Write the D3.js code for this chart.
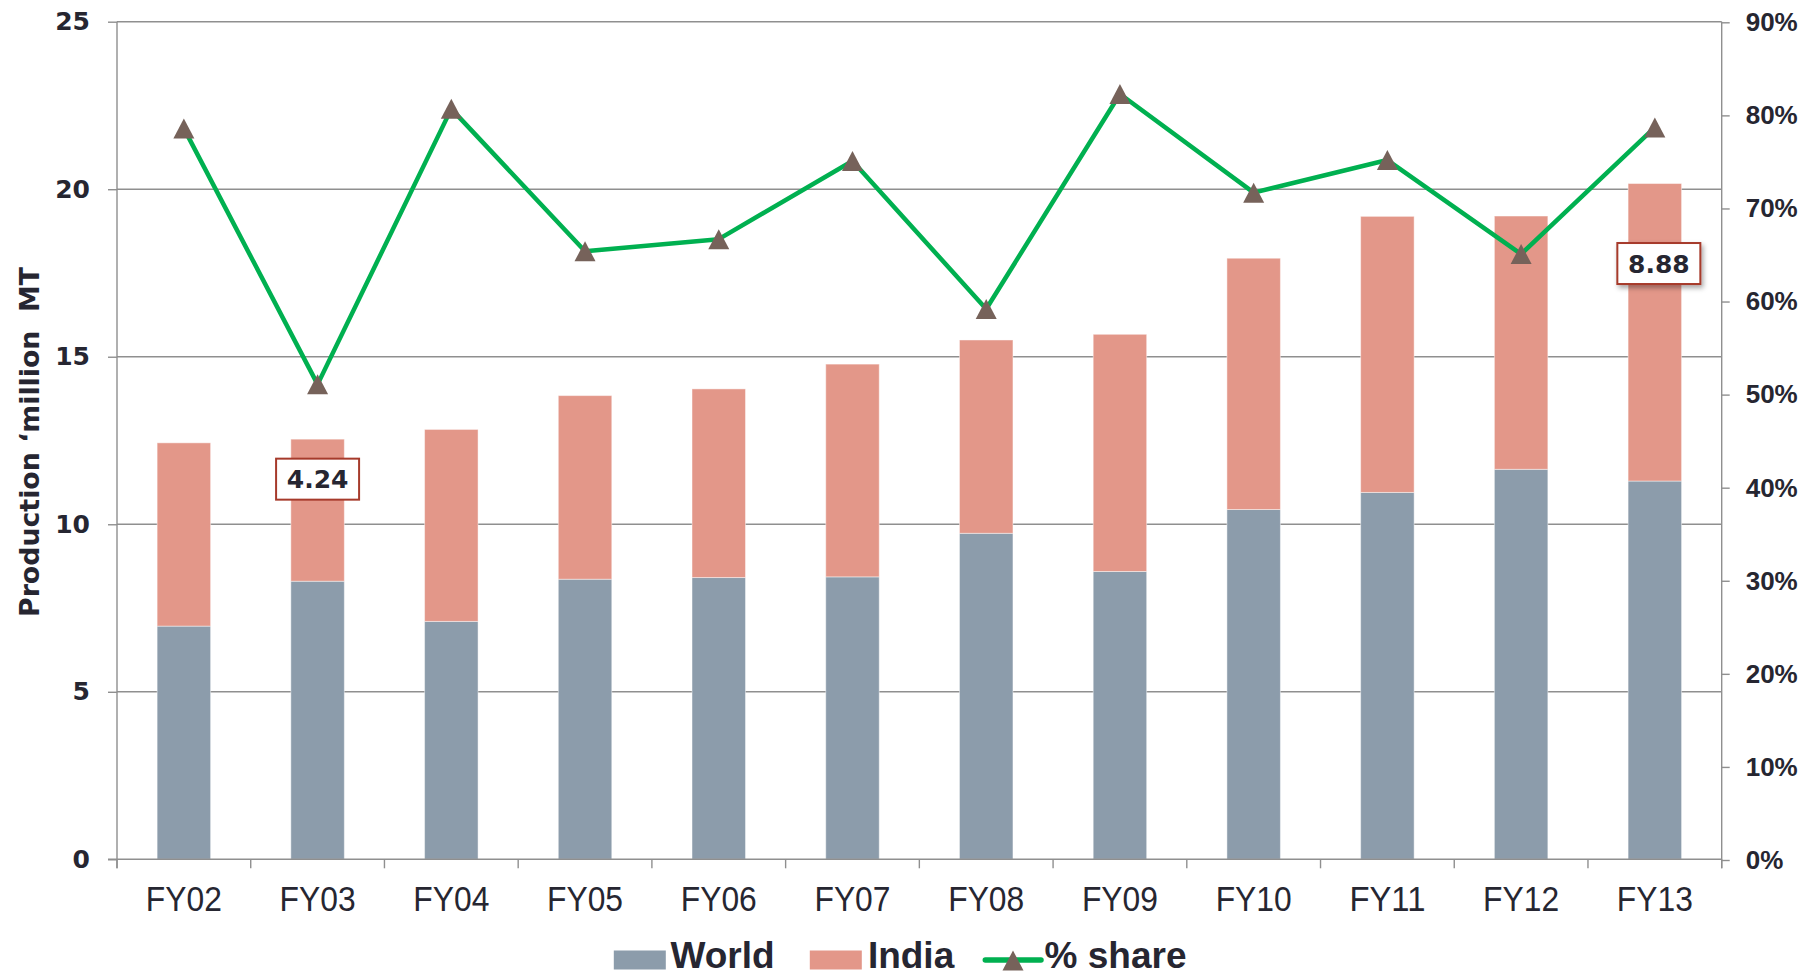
<!DOCTYPE html>
<html>
<head>
<meta charset="utf-8">
<script src="https://cdn.jsdelivr.net/npm/d3@7"></script>
<style>
  html, body { margin: 0; padding: 0; background: #ffffff; }
  svg { display: block; }
</style>
</head>
<body>
<svg id="chart" width="1804" height="976"></svg>
<script>
// Production by year (million MT): World and India stacked, plus India's % share
const categories = ["FY02", "FY03", "FY04", "FY05", "FY06", "FY07", "FY08", "FY09", "FY10", "FY11", "FY12", "FY13"];
const world = [6.96, 8.30, 7.10, 8.36, 8.41, 8.43, 9.73, 8.59, 10.44, 10.95, 11.64, 11.29];
const india = [5.47, 4.24, 5.73, 5.48, 5.63, 6.35, 5.77, 7.08, 7.50, 8.24, 7.56, 8.88];
const share = [78.6, 51.1, 80.7, 65.4, 66.7, 75.1, 59.2, 82.3, 71.7, 75.2, 65.1, 78.7];
const leftTicks = [0, 5, 10, 15, 20, 25];
const rightTicks = [0, 10, 20, 30, 40, 50, 60, 70, 80, 90];
const seriesNames = ["World", "India", "% share"];

const COLORS = { world: "#8c9cab", india: "#e39789", line: "#00b050", marker: "#76625a",
                 grid: "#8f8f8f", text: "#262631", box: "#a63a2b" };

const svg = d3.select("#chart");
const plot = { left: 117, right: 1721.7, top: 21.7, bottom: 859.3 };

const x = d3.scaleBand().domain(categories)
  .range([plot.left, plot.right]).paddingInner(0.6).paddingOuter(0.3);
const y = d3.scaleLinear().domain([0, 25]).range([plot.bottom, plot.top]);
const y2 = d3.scaleLinear().domain([0, 90]).range([plot.bottom + 0.7, plot.top + 0.6]);

const rows = categories.map((c, i) => ({ cat: c, world: world[i], india: india[i], share: share[i] }));

// Left axis ticks and labels
const leftAxis = svg.append("g")
  .attr("transform", `translate(${plot.left},0)`)
  .call(d3.axisLeft(y).tickValues(leftTicks).tickSize(9).tickPadding(18));
leftAxis.select(".domain").remove();
leftAxis.selectAll(".tick line").attr("stroke", COLORS.grid).attr("stroke-width", 1.4);
leftAxis.selectAll(".tick text")
  .attr("fill", COLORS.text).attr("font-family", "'DejaVu Sans', Verdana, sans-serif")
  .attr("font-weight", "bold").attr("font-size", 25);

// Horizontal gridlines
svg.append("g").selectAll("line.grid").data(leftTicks.filter(t => t > 0)).join("line")
  .attr("class", "grid")
  .attr("x1", plot.left).attr("x2", plot.right)
  .attr("y1", d => y(d)).attr("y2", d => y(d))
  .attr("stroke", COLORS.grid).attr("stroke-width", 1.4);

// Stacked bars
const stack = d3.stack().keys(["world", "india"])(rows);
const barGroups = svg.append("g").selectAll("g").data(stack).join("g")
  .attr("fill", d => COLORS[d.key]);
barGroups.selectAll("rect").data(d => d).join("rect")
  .attr("x", d => x(d.data.cat))
  .attr("width", x.bandwidth())
  .attr("y", d => y(d[1]))
  .attr("height", d => y(d[0]) - y(d[1]))
  .attr("stroke", "rgba(255,255,255,0.45)").attr("stroke-width", 1);

// Axis lines (left, right, bottom)
svg.append("line").attr("x1", plot.left).attr("x2", plot.left)
  .attr("y1", plot.top).attr("y2", plot.bottom + 9)
  .attr("stroke", COLORS.grid).attr("stroke-width", 1.4);
svg.append("line").attr("x1", plot.right).attr("x2", plot.right)
  .attr("y1", plot.top).attr("y2", plot.bottom + 9)
  .attr("stroke", COLORS.grid).attr("stroke-width", 1.4);
svg.append("line").attr("x1", plot.left - 9).attr("x2", plot.right)
  .attr("y1", plot.bottom).attr("y2", plot.bottom)
  .attr("stroke", COLORS.grid).attr("stroke-width", 1.4);

// Category boundary ticks under the x axis
const step = x.step();
const boundaries = categories.map(c => x(c) - step * x.paddingInner() / 2);
boundaries[0] = x(categories[0]) - step * x.paddingOuter();
boundaries.push(x(categories[categories.length - 1]) + x.bandwidth() + step * x.paddingOuter());
svg.append("g").selectAll("line").data(boundaries).join("line")
  .attr("x1", d => d).attr("x2", d => d)
  .attr("y1", plot.bottom).attr("y2", plot.bottom + 9)
  .attr("stroke", COLORS.grid).attr("stroke-width", 1.4);

// Category labels
const bottomAxis = svg.append("g")
  .attr("transform", `translate(0,${plot.bottom})`)
  .call(d3.axisBottom(x).tickSize(0).tickPadding(27));
bottomAxis.select(".domain").remove();
bottomAxis.selectAll(".tick text")
  .attr("fill", COLORS.text).attr("font-family", "'Liberation Sans', Arial, sans-serif")
  .attr("font-size", 35).attr("dy", "0.71em")
  .attr("textLength", 76).attr("lengthAdjust", "spacingAndGlyphs");

// Right axis (% share)
const rightAxis = svg.append("g")
  .attr("transform", `translate(${plot.right},0)`)
  .call(d3.axisRight(y2).tickValues(rightTicks).tickSize(8).tickPadding(16).tickFormat(d => d + "%"));
rightAxis.select(".domain").remove();
rightAxis.selectAll(".tick line").attr("stroke", COLORS.grid).attr("stroke-width", 1.4);
rightAxis.selectAll(".tick text")
  .attr("fill", COLORS.text).attr("font-family", "'Liberation Sans', Arial, sans-serif")
  .attr("font-weight", "bold").attr("font-size", 26);

// Y axis title
svg.append("text")
  .attr("transform", `translate(39,442) rotate(-90)`)
  .attr("text-anchor", "middle")
  .attr("fill", COLORS.text).attr("font-family", "'DejaVu Sans', Verdana, sans-serif")
  .attr("font-weight", "bold").attr("font-size", 27)
  .attr("textLength", 350).attr("lengthAdjust", "spacingAndGlyphs")
  .attr("xml:space", "preserve")
  .text("Production \u2018million  MT");

// % share line with triangle markers
const cx = d => x(d.cat) + x.bandwidth() / 2;
const triangle = (px, py, w, h) =>
  `M${px},${py - h / 2}L${px + w / 2},${py + h / 2}L${px - w / 2},${py + h / 2}Z`;

svg.append("path").datum(rows)
  .attr("d", d3.line().x(cx).y(d => y2(d.share)))
  .attr("fill", "none").attr("stroke", COLORS.line).attr("stroke-width", 4.5)
  .attr("stroke-linejoin", "round");
svg.append("g").selectAll("path").data(rows).join("path")
  .attr("d", d => triangle(cx(d), y2(d.share), 21, 20))
  .attr("fill", COLORS.marker);

// Value call-outs for the India segment
const defs = svg.append("defs");
const shadow = defs.append("filter").attr("id", "boxShadow")
  .attr("x", "-20%").attr("y", "-20%").attr("width", "150%").attr("height", "160%");
shadow.append("feDropShadow").attr("dx", 2).attr("dy", 3).attr("stdDeviation", 2.5)
  .attr("flood-color", "#000").attr("flood-opacity", 0.35);

const callouts = [
  { index: 1, dx: 0, dy: 40, shadow: false },
  { index: 11, dx: 4, dy: 80, shadow: true }
];
callouts.forEach(c => {
  const r = rows[c.index];
  const bx = cx(r) + c.dx;
  const by = y(r.world + r.india) + c.dy;
  const g = svg.append("g");
  g.append("rect")
    .attr("x", bx - 41.5).attr("y", by - 20.5).attr("width", 83).attr("height", 41)
    .attr("fill", "#ffffff").attr("stroke", COLORS.box).attr("stroke-width", 2)
    .attr("filter", c.shadow ? "url(#boxShadow)" : null);
  g.append("text")
    .attr("x", bx).attr("y", by).attr("dy", "0.36em")
    .attr("text-anchor", "middle")
    .attr("fill", COLORS.text).attr("font-family", "'DejaVu Sans', Verdana, sans-serif")
    .attr("font-weight", "bold").attr("font-size", 25)
    .text(d3.format(".2f")(r.india));
});

// Legend
const legend = svg.append("g")
  .attr("font-family", "'Liberation Sans', Arial, sans-serif")
  .attr("font-weight", "bold").attr("font-size", 37).attr("fill", COLORS.text);
const legendY = 960;
const legendBaseline = 968;
legend.append("rect").attr("x", 613.8).attr("y", legendY - 9.5).attr("width", 52).attr("height", 19)
  .attr("fill", COLORS.world);
legend.append("text").attr("x", 670.5).attr("y", legendBaseline).text(seriesNames[0]);
legend.append("rect").attr("x", 809.8).attr("y", legendY - 9.5).attr("width", 52).attr("height", 19)
  .attr("fill", COLORS.india);
legend.append("text").attr("x", 867.9).attr("y", legendBaseline).text(seriesNames[1]);
legend.append("line").attr("x1", 985.3).attr("x2", 1041).attr("y1", legendY).attr("y2", legendY)
  .attr("stroke", COLORS.line).attr("stroke-width", 5.5).attr("stroke-linecap", "round");
legend.append("path").attr("d", triangle(1013, legendY + 0.5, 21, 20)).attr("fill", COLORS.marker);
legend.append("text").attr("x", 1044.6).attr("y", legendBaseline).text(seriesNames[2]);
</script>
</body>
</html>
